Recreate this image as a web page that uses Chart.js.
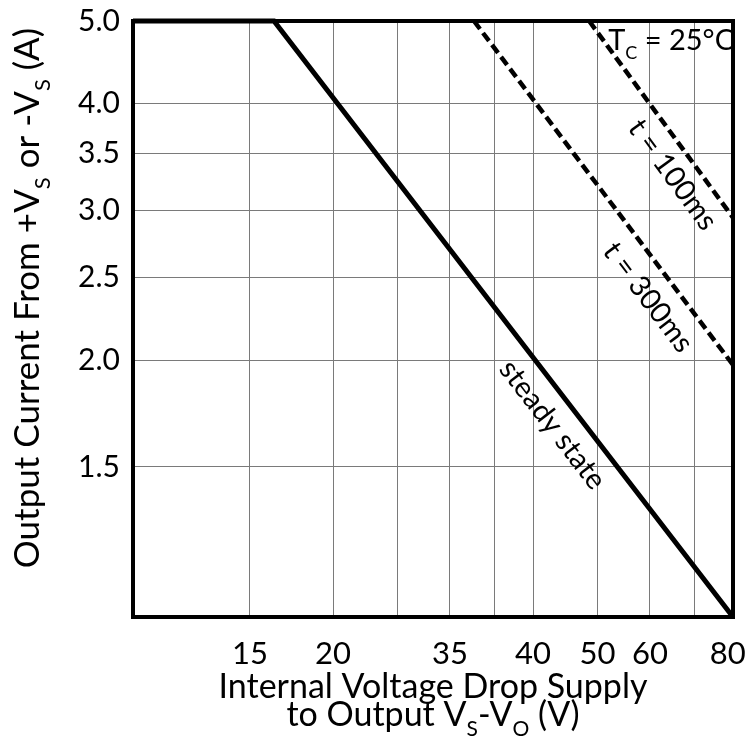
<!DOCTYPE html>
<html>
<head>
<meta charset="utf-8">
<script src="https://cdn.jsdelivr.net/npm/chart.js@4.4.1/dist/chart.umd.min.js"></script>
<style>
  html, body { margin: 0; padding: 0; background: #fff; }
  #wrap { width: 745px; height: 742px; }
</style>
</head>
<body>
<div id="wrap"><canvas id="soaChart" width="745" height="742"></canvas></div>
<script>
// SAFE OPERATING AREA - output current vs internal voltage drop (log-log)
const steadyV = [10, 16.3, 80];
const steadyI = [5.0, 5.0, 1.0];
const t100V = [48.6, 80];
const t100I = [5.0, 2.94];
const t300V = [32.6, 80];
const t300I = [5.0, 1.975];

// grid lines and the labels printed under / beside them
const xGridValues = [10, 15, 20, 25, 30, 35, 40, 50, 60, 70, 80];
const xTickLabels = ['', '15', '20', '', '35', '', '40', '50', '60', '', '80\u2004'];
const yGridValues = [1.0, 1.5, 2.0, 2.5, 3.0, 3.5, 4.0, 5.0];
const yTickLabels = ['', '1.5', '2.0', '2.5', '3.0', '3.5', '4.0', '5.0'];

const FONT = 'Lato, "Open Sans", sans-serif';
const GRID = '#7a7a7a';

Chart.defaults.font.family = FONT;
Chart.defaults.color = '#000';

function toPoints(xs, ys) {
    return xs.map((x, i) => ({ x: x, y: ys[i] }));
}

// draws text made of normal and subscript parts
function drawRich(ctx, parts, x, y, size, align) {
    let total = 0;
    const widths = parts.map(p => {
        ctx.font = (p.sub ? Math.round(size * 0.62) : size) + 'px ' + FONT;
        const w = ctx.measureText(p.t).width;
        total += w;
        return w;
    });
    let cx = x;
    if (align === 'center') cx = x - total / 2;
    if (align === 'right') cx = x - total;
    ctx.textAlign = 'left';
    ctx.textBaseline = 'alphabetic';
    parts.forEach((p, i) => {
        ctx.font = (p.sub ? Math.round(size * 0.62) : size) + 'px ' + FONT;
        ctx.fillText(p.t, cx, y + (p.sub ? size * 0.3 : 0));
        cx += widths[i];
    });
}

// labels along the curves: anchor in data units, angle from the curve segment
const curveLabels = [
    { text: 'steady state', x: 42.8, y: 1.68, seg: [16.3, 5.0, 80, 1.0] },
    { text: 't = 100ms', x: 64.9, y: 3.30, seg: [48.6, 5.0, 80, 2.94] },
    { text: 't = 300ms', x: 59.6, y: 2.37, seg: [32.6, 5.0, 80, 1.975] }
];

const textPlugin = {
    id: 'textPlugin',
    afterDraw(chart) {
        const ctx = chart.ctx;
        const a = chart.chartArea;
        const xs = chart.scales.x;
        const ys = chart.scales.y;

        // plot frame
        ctx.save();
        ctx.strokeStyle = '#000';
        ctx.lineWidth = 4;
        ctx.strokeRect(a.left, a.top, a.right - a.left, a.bottom - a.top);
        ctx.restore();

        ctx.save();
        ctx.fillStyle = '#000';

        curveLabels.forEach(l => {
            const x1 = xs.getPixelForValue(l.seg[0]), y1 = ys.getPixelForValue(l.seg[1]);
            const x2 = xs.getPixelForValue(l.seg[2]), y2 = ys.getPixelForValue(l.seg[3]);
            const ang = Math.atan2(y2 - y1, x2 - x1);
            ctx.save();
            ctx.translate(xs.getPixelForValue(l.x), ys.getPixelForValue(l.y));
            ctx.rotate(ang);
            ctx.font = '29px ' + FONT;
            ctx.textAlign = 'center';
            ctx.textBaseline = 'middle';
            ctx.fillText(l.text, 0, 0);
            ctx.restore();
        });

        // case temperature
        drawRich(ctx, [{ t: 'T' }, { t: 'C', sub: true }, { t: ' = 25°C' }], a.right + 1, 50, 29, 'right');

        // x axis title, two lines
        const cx = (a.left + a.right) / 2;
        drawRich(ctx, [{ t: 'Internal Voltage Drop Supply' }], cx, 698, 34, 'center');
        drawRich(ctx, [{ t: 'to Output V' }, { t: 'S', sub: true }, { t: '-V' }, { t: 'O', sub: true }, { t: ' (V)' }], cx, 726, 34, 'center');

        // y axis title
        ctx.save();
        ctx.translate(39, 298);
        ctx.rotate(-Math.PI / 2);
        drawRich(ctx, [{ t: 'Output Current From +V' }, { t: 'S', sub: true }, { t: ' or -V' }, { t: 'S', sub: true }, { t: ' (A)' }], 0, 0, 35, 'center');
        ctx.restore();

        ctx.restore();
    }
};

const chartConfig = {
    type: 'line',
    data: {
        datasets: [{
            label: 'steady state',
            data: toPoints(steadyV, steadyI),
            borderColor: '#000',
            borderWidth: 5,
            pointRadius: 0,
            tension: 0,
            clip: false
        }, {
            label: 't = 100ms',
            data: toPoints(t100V, t100I),
            borderColor: '#000',
            borderWidth: 4.5,
            borderDash: [10, 5],
            pointRadius: 0,
            tension: 0
        }, {
            label: 't = 300ms',
            data: toPoints(t300V, t300I),
            borderColor: '#000',
            borderWidth: 4.5,
            borderDash: [10, 5],
            pointRadius: 0,
            tension: 0
        }]
    },
    options: {
        responsive: false,
        animation: false,
        layout: { padding: { top: 21, right: 12, left: 0, bottom: 0 } },
        plugins: {
            legend: { display: false },
            tooltip: { enabled: false }
        },
        scales: {
            x: {
                type: 'logarithmic',
                min: 10,
                max: 80,
                afterBuildTicks: s => { s.ticks = xGridValues.map(v => ({ value: v })); },
                afterFit: s => { s.height = 125; s.paddingLeft = 0; s.paddingRight = 0; },
                ticks: {
                    autoSkip: false,
                    maxRotation: 0,
                    minRotation: 0,
                    padding: 18,
                    font: { size: 31 },
                    callback: v => xTickLabels[xGridValues.indexOf(v)]
                },
                grid: { color: GRID, lineWidth: 1, drawTicks: false },
                border: { display: false }
            },
            y: {
                type: 'logarithmic',
                min: 1,
                max: 5,
                afterBuildTicks: s => { s.ticks = yGridValues.map(v => ({ value: v })); },
                afterFit: s => { s.width = 133; s.paddingTop = 0; s.paddingBottom = 0; },
                ticks: {
                    autoSkip: false,
                    padding: 13,
                    font: { size: 30 },
                    callback: v => yTickLabels[yGridValues.indexOf(v)]
                },
                grid: { color: GRID, lineWidth: 1, drawTicks: false },
                border: { display: false }
            }
        }
    },
    plugins: [textPlugin]
};

new Chart(document.getElementById('soaChart').getContext('2d'), chartConfig);
</script>
</body>
</html>
